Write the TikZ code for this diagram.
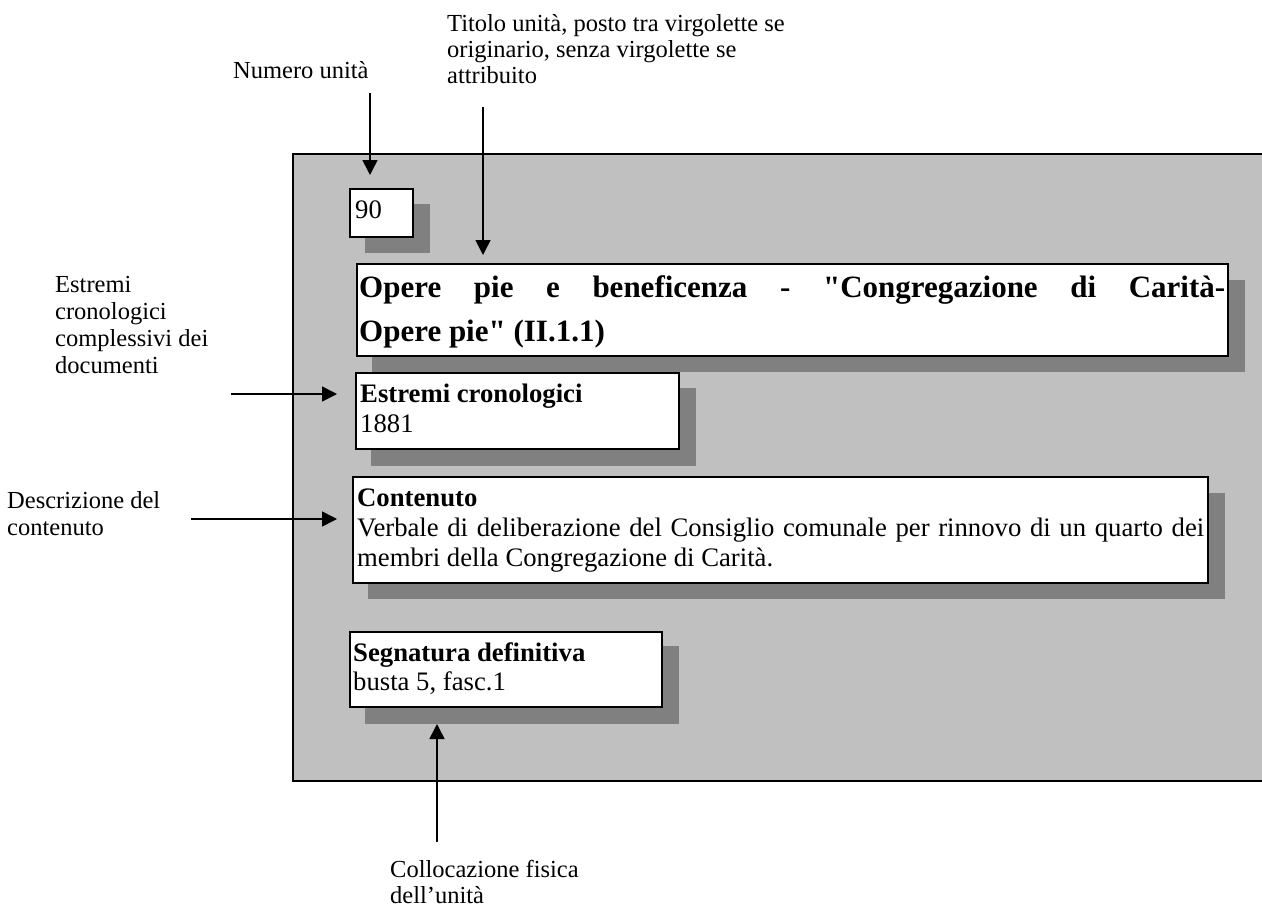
\documentclass[tikz,border=0pt]{standalone}
\usepackage{fontspec}
\setmainfont{Liberation Serif}
\usetikzlibrary{arrows.meta}
\definecolor{panelgray}{HTML}{C0C0C0}
\definecolor{shadowgray}{HTML}{808080}
\newcommand{\straightquote}{\XeTeXglyph\XeTeXcharglyph"22\relax}
\begin{document}
\begin{tikzpicture}[x=1pt,y=-1pt,
  box/.style={draw=black,line width=1.6pt,fill=white,inner sep=0pt,outer sep=0pt,anchor=north west},
  shade/.style={fill=shadowgray},
  lbl/.style={inner sep=0pt,anchor=base west,align=left,font=\fontsize{24.5}{26.5}\selectfont},
  txt/.style={inner sep=0pt,anchor=base west,font=\fontsize{26.7}{30.5}\selectfont},
  ttl/.style={inner sep=0pt,anchor=base west,font=\fontsize{31}{44}\selectfont\bfseries},
  arr/.style={line width=1.6pt,-{Triangle[length=15pt,width=15pt]}}]
\useasboundingbox (0,0) rectangle (1262,911);
% panel
\fill[panelgray] (293,154) rectangle (1270,781);
\draw[line width=1.8pt] (1270,154) -- (293,154) -- (293,781) -- (1270,781);
% shadows
\fill[shade] (365,204) rectangle (430,253);
\fill[shade] (372,280) rectangle (1245,372);
\fill[shade] (371,388) rectangle (696,466);
\fill[shade] (368,493) rectangle (1225,599);
\fill[shade] (365,646) rectangle (679,724);
% boxes
\node[box,minimum width=63pt,minimum height=48pt] (numbox) at (350,189) {};
\node[box,minimum width=871pt,minimum height=92pt] (titlebox) at (357,264) {};
\node[box,minimum width=323pt,minimum height=76pt] (datebox) at (356,373) {};
\node[box,minimum width=855pt,minimum height=106pt] (contbox) at (353,477) {};
\node[box,minimum width=312pt,minimum height=75pt] (segbox) at (350,632) {};
% box texts
\node[txt] (numtxt) at (355,218) {90};
\node[ttl] (ttl1) at (359,297) {\makebox[866pt][s]{Opere pie e beneficenza - \straightquote Congregazione di Carità-}};
\node[ttl] (ttl2) at (359,341) {Opere pie\straightquote{} (II.1.1)};
\node[txt,font=\fontsize{26.7}{30.5}\selectfont\bfseries] (datehead) at (360,402) {Estremi cronologici};
\node[txt] (datetxt) at (360,432) {1881};
\node[txt,font=\fontsize{26.7}{30.5}\selectfont\bfseries] (conthead) at (357,506) {Contenuto};
\node[txt] (cont1) at (357,536) {\makebox[847pt][s]{Verbale di deliberazione del Consiglio comunale per rinnovo di un quarto dei}};
\node[txt] (cont2) at (357,566) {membri della Congregazione di Carità.};
\node[txt,font=\fontsize{26.7}{30.5}\selectfont\bfseries] (seghead) at (353,661) {Segnatura definitiva};
\node[txt] (segtxt) at (353,690) {busta 5, fasc.1};
% labels (anchored at the baseline of their last line)
\node[lbl] (lblnum) at (233,78) {Numero unità};
\node[lbl,font=\fontsize{24.5}{26}\selectfont] (lbltit) at (447,83) {Titolo unità, posto tra virgolette se\\originario, senza virgolette se\\attribuito};
\node[lbl,font=\fontsize{24.5}{27}\selectfont] (lbldate) at (55,373) {Estremi\\cronologici\\complessivi dei\\documenti};
\node[lbl,font=\fontsize{24.5}{27}\selectfont] (lblcont) at (7,535) {Descrizione del\\contenuto};
\node[lbl,font=\fontsize{24.5}{26}\selectfont] (lblseg) at (390,903) {Collocazione fisica\\dell’unità};
% arrows
\coordinate (numtail) at (370,93);
\coordinate (numtip) at (370,175);
\coordinate (tittail) at (483,107);
\coordinate (tittip) at (483,255);
\coordinate (datetail) at (231,394);
\coordinate (datetip) at (337,394);
\coordinate (conttail) at (191,519);
\coordinate (conttip) at (337,519);
\coordinate (segtail) at (437,842);
\coordinate (segtip) at (437,724);
\draw[arr] (numtail) -- (numtip);
\draw[arr] (tittail) -- (tittip);
\draw[arr] (datetail) -- (datetip);
\draw[arr] (conttail) -- (conttip);
\draw[arr] (segtail) -- (segtip);
\end{tikzpicture}
\end{document}
